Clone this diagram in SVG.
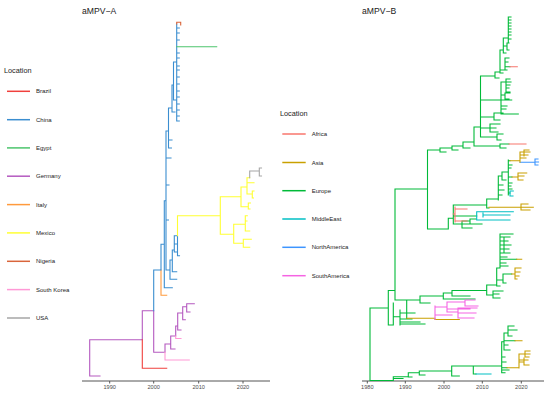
<svg xmlns="http://www.w3.org/2000/svg" width="550" height="395" viewBox="0 0 550 395">
<style>
text{font-family:"Liberation Sans",Arial,sans-serif;fill:#222}
.title{font-size:8.6px}
.lt{font-size:7.3px}
.lb{font-size:6px}
.ax{font-size:5.6px;fill:#4d4d4d;text-anchor:middle}
.t{fill:none;stroke-width:1.1;stroke-linecap:square}
.lg{stroke-width:1.5;fill:none}
.axis{stroke:#555;stroke-width:1;fill:none}
.br{stroke:#f0403c}.cn{stroke:#3b8ed0}.eg{stroke:#4cc46c}.de{stroke:#b55ac0}.it{stroke:#ff9a3c}.mx{stroke:#ffff33}.ng{stroke:#d9653b}.sk{stroke:#ff99d6}.us{stroke:#a6a6a6}
.af{stroke:#f8766d}.as{stroke:#c9a000}.eu{stroke:#00ba38}.me{stroke:#00bfc4}.na{stroke:#3d95ff}.sa{stroke:#f564e3}
</style>
<rect width="550" height="395" fill="#fff"/>

<g id="panel-a">
<text class="title" x="82" y="14">aMPV−A</text>
<g id="legend-a">
<text class="lt" x="4" y="73.3">Location</text>
<g id="leg-brazil"><path class="lg br" d="M7 91.3H30"/><text class="lb" x="36" y="93.3">Brazil</text></g>
<g id="leg-china"><path class="lg cn" d="M7 119.7H30"/><text class="lb" x="36" y="121.7">China</text></g>
<g id="leg-egypt"><path class="lg eg" d="M7 147.9H30"/><text class="lb" x="36" y="149.9">Egypt</text></g>
<g id="leg-germany"><path class="lg de" d="M7 176.2H30"/><text class="lb" x="36" y="178.2">Germany</text></g>
<g id="leg-italy"><path class="lg it" d="M7 204.6H30"/><text class="lb" x="36" y="206.6">Italy</text></g>
<g id="leg-mexico"><path class="lg mx" d="M7 232.9H30"/><text class="lb" x="36" y="234.9">Mexico</text></g>
<g id="leg-nigeria"><path class="lg ng" d="M7 261.3H30"/><text class="lb" x="36" y="263.3">Nigeria</text></g>
<g id="leg-southkorea"><path class="lg sk" d="M7 289.6H30"/><text class="lb" x="36" y="291.6">South Korea</text></g>
<g id="leg-usa"><path class="lg us" d="M7 318H30"/><text class="lb" x="36" y="320">USA</text></g>
</g>
<g id="axis-a">
<path class="axis" d="M82 381H270M109.7 381V383.5M153.7 381V383.5M198.7 381V383.5M243 381V383.5"/>
<text class="ax" x="109.7" y="389">1990</text>
<text class="ax" x="153.7" y="389">2000</text>
<text class="ax" x="198.7" y="389">2010</text>
<text class="ax" x="243" y="389">2020</text>
</g>
<g id="tree-a">
<path class="t de" d="M89.7 339.7V376M89.7 339.7H142.3M89.7 376H100M142.3 310.7V339.7M142.3 310.7H153.7M153.7 310.7V352.3M153.7 352.3H165M165 344V352.3M165 344H170.7M170.7 336V349M170.7 349H175M170.7 336H175.7M175.7 326V336M175.7 326H177.7M177.7 313V330M177.7 330H181M177.7 313H182.7M182.7 306.7V319.7M182.7 319.7H185.3M182.7 306.7H186.7M186.7 303.7V312M186.7 312H190M186.7 303.7H194.3"/>
<path class="t sk" d="M165 352.3V360M165 360H189.3M175.7 336V338.5M175.7 338.5H181"/>
<path class="t br" d="M142.3 339.7V368.3M142.3 368.3H166.7"/>
<path class="t it" d="M161 270V295.3M161 295.3H166.7"/>
<path class="t cn" d="M153.7 270V310.7M153.7 270H161M161 244.3V270M161 244.3H164.3M164.3 200.7V287.7M164.3 200.7H166M164.3 287.7H172.3M166 131V270M166 270H170M170 260V279.3M170 279.3H176.7M170 260H172.3M172.3 250V271.7M172.3 271.7H176.7M172.3 250H174.3M174.3 235.7V252M174.3 252H176.5M174.3 235.7H177.5M177.5 235.7V255.7M177.5 255.7H179.5M174.3 244H177M166 158H171M166 185H169M166 220H168.5M166 131H168.5M168.5 108V148M168.5 148H171.5M168.5 140H172M168.5 108H172M172 85V112M172 112H175M172 85H173.5M173.5 62V100M173.5 100H176M173.5 62H176.7M176.7 24V121M176.7 28H179.3M176.7 33H179.3M176.7 40H179.3M176.7 53H179.3M176.7 58H179.3M176.7 66H179.3M176.7 70H179.3M176.7 77H179.3M176.7 84H179.3M176.7 91H179.3M176.7 97H179.3M176.7 104H179.3M176.7 110H179.3M176.7 116H179.3M176.7 121H179.3"/>
<path class="t ng" d="M176.7 22.3V24M176.7 22.3H180.7M180.7 22.3V25"/>
<path class="t eg" d="M176.7 46.7H216.7"/>
<path class="t mx" d="M177.5 215.7V235.7M177.5 215.7H220.3M220.3 196.7V234.3M220.3 196.7H241M241 187V206.7M241 206.7H248.3M248.3 203V209M248.3 203H250.5M248.3 209H250M241 187H247M247 177.7V194M247 194H252.3M252.3 191V198M252.3 191H254M252.3 198H253.5M247 182.7H254M247 177.7H249.7M220.3 234.3H233.7M233.7 224.3V243.3M233.7 224.3H245.3M245.3 215.7V231M245.3 215.7H247.3M245.3 231H249.7M245.3 221H247M233.7 243.3H243.3M243.3 239.3V247.3M243.3 239.3H251.3M243.3 247.3H249.7"/>
<path class="t us" d="M249.7 171V177.7M249.7 171H259.3M259.3 168V176M259.3 168H261.5M259.3 176H261.5"/>
</g>
</g>

<g id="panel-b">
<text class="title" x="362" y="14">aMPV−B</text>
<g id="legend-b">
<text class="lt" x="280" y="116">Location</text>
<g id="leg-africa"><path class="lg af" d="M282.3 134H305.7"/><text class="lb" x="311.7" y="136">Africa</text></g>
<g id="leg-asia"><path class="lg as" d="M282.3 162.5H305.7"/><text class="lb" x="311.7" y="164.5">Asia</text></g>
<g id="leg-europe"><path class="lg eu" d="M282.3 190.7H305.7"/><text class="lb" x="311.7" y="192.7">Europe</text></g>
<g id="leg-middleeast"><path class="lg me" d="M282.3 219H305.7"/><text class="lb" x="311.7" y="221">MiddleEast</text></g>
<g id="leg-northamerica"><path class="lg na" d="M282.3 247.3H305.7"/><text class="lb" x="311.7" y="249.3">NorthAmerica</text></g>
<g id="leg-southamerica"><path class="lg sa" d="M282.3 275.7H305.7"/><text class="lb" x="311.7" y="277.7">SouthAmerica</text></g>
</g>
<g id="axis-b">
<path class="axis" d="M362 381H544M367.3 381V383.5M405.3 381V383.5M444 381V383.5M482.3 381V383.5M521.3 381V383.5"/>
<text class="ax" x="367.3" y="389">1980</text>
<text class="ax" x="405.3" y="389">1990</text>
<text class="ax" x="444" y="389">2000</text>
<text class="ax" x="482.3" y="389">2010</text>
<text class="ax" x="521.3" y="389">2020</text>
</g>
<g id="tree-b">
<path class="t eu" d="M370 308V380.5M370 308H388.3M388.3 290.5V325M388.3 290.5H395M388.3 325H393.3M395 189V300M395 189H427.5M427.5 150V229
M427.5 150H440M440 148V152M440 152H446M440 148H452M452 146V150M452 150H458M452 146H463M463 142V148M463 148H470M463 142H474M474 127V146M474 146H500M500 144V148M500 148H506M500 144H509M474 127H480.5M480.5 76V137
M480.5 137H497M497 134V140M497 134H503M497 140H501M480.5 128H490M490 124V132M490 124H500M490 132H498M490 128H496M480.5 117H494M494 113V120M494 113H503M494 120H500
M480.5 100H501M501 82V114M501 114H518.3M501 100H511.7M501 82H506M506 79V92M506 79H510M506 82H511M506 85H510M506 88H509M506 92H510M501 95H505M505 93V99M505 93H510M505 99H509M501 106H507M501 109H506
M480.5 76H495M495 72V78M495 78H499M495 72H500M500 50V73M500 73H503M500 70H505M505 58V70M505 58H509M505 62H508M505 66.7H510M505 70H507M500 50H503.3M503.3 38V53M503.3 53H506M503.3 46H507M507 43V50M507 43H509M507 50H509M503.3 38H508.3M508.3 17V43M508.3 17H511M508.3 20H511M508.3 23H511M508.3 26H511M508.3 29H511M508.3 32H511M508.3 35H511M508.3 39H511
M427.5 229H448.3M448.3 218.3V229M448.3 218.3H453.3M453.3 205V224M453.3 224H482M462 221V228M462 221H470M462 228H472M470 219V223M470 219H476M453.3 216H476.7
M453.3 205H486.7M486.7 199V208M486.7 208H489M486.7 199H498.3M498.3 176V200M498.3 176H502M502 172V180M502 172H508.3M502 180H506M508.3 160V195M508.3 160.7H510M508.3 165H512M508.3 168H511M508.3 183H512M508.3 186H511M508.3 189H512M508.3 177H512M508.3 193H510M498.3 185H503M498.3 190H504M498.3 195H502
M395 300H406.7M406.7 300V318.3M406.7 300H420M420 296V303M420 303H430M420 296H443.3M443.3 293V299M443.3 299H475M443.3 293H452M452 290.5V296M452 296H470M452 290.5H486.7M486.7 285V295M486.7 295H493M493 291V298M493 291H503M493 298H500M493 294H499M486.7 285H496.7M496.7 268V286M496.7 286H500M496.7 280H503M503 274V283M503 283H506M503 274H511.7M496.7 268H500M500 234V268M500 234H513M500 237H510M500 241H508M500 245H511M500 249H509M500 253H510M500 257H507M500 259.3H516.7M500 263H506M500 266H508M504 237V253
M393.3 303V325M393.3 316.7H400M400 310V325M400 322H420M400 324H425M400 319H412M400 313H415
M370 380.5H393.3M393.3 376.7V380.5M393.3 378.5H403M393.3 376.7H408.3M408.3 372.7V377M408.3 377H412M408.3 372.7H419.3M419.3 371V375M419.3 375H425M419.3 371H451.7M451.7 366V376M451.7 376H459.3M451.7 366H501.7M473.3 366V374M473.3 374H476
M501.7 341.7V372.7M501.7 372.7H505M501.7 370H509M501.7 367.7H507M501.7 362H506M501.7 357H505M501.7 341.7H504M504 333V350M504 350H510M504 345H508M504 340.7H515M504 333H508M508 326V336M508 326H514M508 330H517M508 336H512"/>
<path class="t af" d="M510 66.7H517.3M509 144H526M453.3 214H455M455 207V222M455 209H467M455 221H467"/>
<path class="t me" d="M476.7 211.7V220M476.7 211.7H513.3M483 213V217M483 215H510M476.7 220H510M510 191V196M510 191H513.3M510 196H513M476 374H491"/>
<path class="t na" d="M520 162.3H535M535 159V165M535 159H538M535 162H538.5M535 165H538"/>
<path class="t as" d="M510 160.7H520M520 152V162.3M520 152H530M520 155H528M524 150V156M524 150H529M520 158H526M512 177H518M518 173V180M518 173H526.7M518 176H524M518 180H523M489 207.3H533.3M521 204V210M521 204H528M521 210H530M511.7 274H515M515 268V279M515 268H521M515 272H520M515 276H519M515 279H517M516.7 259.3H521.7M406.7 318.3H435M435 319.5H459.3M507 367.7H519M519 354V368M519 354H530M525 351V357M525 351H530M525 357H529M519 360H528M524 358V365M524 365H529M519 362H523M515 340.7H522"/>
<path class="t sa" d="M435 306V319.5M435 307H447M447 302V312M447 302H465M465 300V306M465 300H475M465 306H478M447 312H458M458 308V318M458 308H477M458 313H476M458 318H474M447 309H470M435 315H452"/>
</g>
</g>
</svg>
